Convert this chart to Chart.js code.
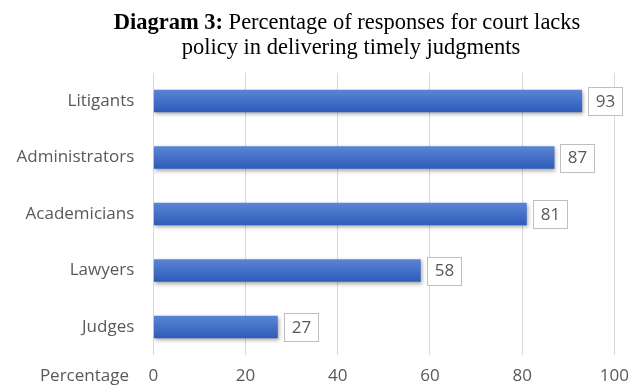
<!DOCTYPE html>
<html>
<head>
<meta charset="utf-8">
<script src="https://cdn.jsdelivr.net/npm/chart.js@4.4.1/dist/chart.umd.min.js"></script>
<style>
  html, body { margin: 0; padding: 0; background: #fff; }
  #wrap { width: 640px; height: 385px; position: relative; }
</style>
</head>
<body>
<div id="wrap"><canvas id="chart"></canvas></div>
<script>
const groups = ["Litigants", "Administrators", "Academicians", "Lawyers", "Judges"];
const percentages = [93, 87, 81, 58, 27];
const tickValues = [0, 20, 40, 60, 80, 100];

const labelFont = '17px "Open Sans", sans-serif';
const titleFont = '22.5px "Liberation Serif", serif';
const textGrey = "#595959";

// bars get a vertical blue gradient, lighter on top
function barFill(context) {
  const chart = context.chart;
  if (!chart.chartArea || !chart.scales.y) return "#4472c4";
  const y = chart.scales.y.getPixelForValue(context.dataIndex);
  const g = chart.ctx.createLinearGradient(0, y - 11, 0, y + 11);
  g.addColorStop(0, "#5b84d4");
  g.addColorStop(0.5, "#4470c8");
  g.addColorStop(1, "#2f5cb8");
  return g;
}

const barShadow = {
  id: "barShadow",
  beforeDatasetDraw(chart) {
    const ctx = chart.ctx;
    ctx.save();
    ctx.shadowColor = "rgba(0,0,0,0.35)";
    ctx.shadowBlur = 4;
    ctx.shadowOffsetX = 1;
    ctx.shadowOffsetY = 2;
  },
  afterDatasetDraw(chart) {
    chart.ctx.restore();
  },
};

// boxed value labels at the end of each bar
const valueBoxes = {
  id: "valueBoxes",
  afterDatasetsDraw(chart) {
    const ctx = chart.ctx;
    const meta = chart.getDatasetMeta(0);
    ctx.save();
    ctx.font = labelFont;
    ctx.textBaseline = "middle";
    ctx.textAlign = "center";
    meta.data.forEach((bar, i) => {
      const txt = String(percentages[i]);
      const w = Math.round(ctx.measureText(txt).width + 15);
      const h = 28;
      const x = Math.round(bar.x + 6);
      const y = Math.round(bar.y - h / 2);
      ctx.fillStyle = "#fff";
      ctx.fillRect(x, y, w, h);
      ctx.strokeStyle = "#bfbfbf";
      ctx.lineWidth = 1;
      ctx.strokeRect(x + 0.5, y + 0.5, w, h);
      ctx.fillStyle = textGrey;
      ctx.fillText(txt, x + w / 2 + 0.5, bar.y + 1);
    });
    ctx.restore();
  },
};

// two-line title (bold lead-in) and the axis caption left of the ticks
const decorations = {
  id: "decorations",
  afterDraw(chart) {
    const ctx = chart.ctx;
    ctx.save();
    ctx.fillStyle = "#000";
    ctx.textBaseline = "alphabetic";
    const bold = "Diagram 3:";
    const rest = " Percentage of responses for court lacks";
    ctx.font = "bold " + titleFont;
    const bw = ctx.measureText(bold).width;
    ctx.font = titleFont;
    const rw = ctx.measureText(rest).width;
    const x = 347 - (bw + rw) / 2;
    ctx.textAlign = "left";
    ctx.font = "bold " + titleFont;
    ctx.fillText(bold, x, 29);
    ctx.font = titleFont;
    ctx.fillText(rest, x + bw, 29);
    ctx.textAlign = "center";
    ctx.fillText("policy in delivering timely judgments", 351, 54);

    ctx.font = labelFont;
    ctx.fillStyle = textGrey;
    ctx.textAlign = "right";
    ctx.textBaseline = "middle";
    ctx.fillText("Percentage", 129, 376);
    ctx.restore();
  },
};

new Chart(document.getElementById("chart"), {
  type: "bar",
  data: {
    labels: groups,
    datasets: [
      {
        data: percentages,
        backgroundColor: barFill,
        borderWidth: 0,
        barPercentage: 0.4,
        categoryPercentage: 1,
      },
    ],
  },
  options: {
    indexAxis: "y",
    responsive: true,
    maintainAspectRatio: false,
    animation: false,
    layout: { padding: { top: 72.75, right: 18.3, bottom: 0, left: 0 } },
    plugins: {
      legend: { display: false },
      tooltip: { enabled: false },
    },
    scales: {
      x: {
        min: 0,
        max: 100,
        afterBuildTicks(axis) {
          axis.ticks = tickValues.map((v) => ({ value: v }));
        },
        afterFit(axis) {
          axis.height = 29.75;
        },
        border: { display: false },
        grid: { color: "#d9d9d9", drawTicks: false },
        ticks: { padding: 11, color: textGrey, font: { family: "Open Sans", size: 17 } },
      },
      y: {
        afterFit(axis) {
          axis.width = 153.3;
        },
        border: { display: false },
        grid: { display: false, drawTicks: false },
        ticks: { padding: 19, color: textGrey, font: { family: "Open Sans", size: 17 } },
      },
    },
  },
  plugins: [barShadow, valueBoxes, decorations],
});
</script>
</body>
</html>
